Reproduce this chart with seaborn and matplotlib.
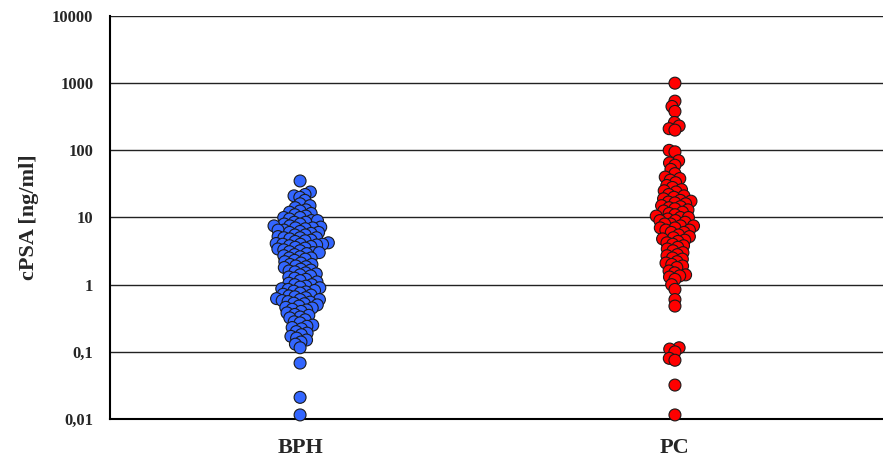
import numpy as np
import pandas as pd
import matplotlib.pyplot as plt
import seaborn as sns
from matplotlib.ticker import NullLocator

# values (ng/ml)
groups = ['BPH', 'PC']
bph_values = [35, 24, 22, 21, 20, 18, 16, 15, 14, 13, 12.5, 12, 11.5, 11, 10.5, 10, 10, 9.5, 9, 9,
              8.5, 8.5, 8, 8, 7.5, 7.5, 7.2, 7, 7, 6.8, 6.5, 6.5, 6.2, 6, 6, 5.8, 5.5, 5.5, 5.2,
              5, 5, 5, 4.8, 4.6, 4.5, 4.4, 4.2, 4.1, 4, 4, 4, 3.9, 3.8, 3.7, 3.6, 3.5, 3.4, 3.3,
              3.2, 3.1, 3.0, 3.0, 2.9, 2.8, 2.7, 2.6, 2.5, 2.5, 2.4, 2.3, 2.2, 2.1, 2.0, 2.0,
              1.9, 1.85, 1.8, 1.7, 1.65, 1.6, 1.55, 1.5, 1.45, 1.4, 1.35, 1.3, 1.25, 1.2, 1.15,
              1.1, 1.05, 1.0, 1.0, 0.95, 0.92, 0.9, 0.87, 0.85, 0.82, 0.8, 0.78, 0.75, 0.72, 0.7,
              0.68, 0.66, 0.64, 0.62, 0.6, 0.6, 0.58, 0.56, 0.55, 0.53, 0.52, 0.5, 0.48, 0.46,
              0.45, 0.43, 0.42, 0.4, 0.38, 0.36, 0.35, 0.33, 0.32, 0.3, 0.28, 0.27, 0.25, 0.24,
              0.23, 0.22, 0.2, 0.19, 0.18, 0.17, 0.16, 0.15, 0.14, 0.13, 0.115, 0.068, 0.021,
              0.0115]
pc_values = [1000, 540, 450, 380, 260, 230, 210, 200, 100, 95, 70, 65, 60, 52, 45, 40, 38, 36,
             33, 30, 28, 26, 25, 24, 22, 21, 20, 19, 18, 17.5, 17, 16.5, 16, 15, 14.5, 14, 13.5,
             13, 12.5, 12, 11.5, 11, 10.5, 10, 10, 9.5, 9, 9, 8.5, 8, 8, 7.5, 7.5, 7, 7, 6.5,
             6.5, 6, 6, 5.5, 5.2, 5, 4.8, 4.6, 4.4, 4.2, 4, 3.8, 3.6, 3.4, 3.2, 3, 2.8, 2.7,
             2.5, 2.4, 2.2, 2.1, 2, 1.9, 1.8, 1.6, 1.5, 1.4, 1.35, 1.3, 1.2, 1.0, 0.85, 0.6,
             0.48, 0.115, 0.11, 0.1, 0.08, 0.075, 0.032, 0.0115]
group_colors = {'BPH': '#3366FF', 'PC': '#FF0000'}
ytick_values = [0.01, 0.1, 1, 10, 100, 1000, 10000]
ytick_labels = ['0,01', '0,1', '1', '10', '100', '1000', '10000']

df = pd.DataFrame({'group': ['BPH'] * len(bph_values) + ['PC'] * len(pc_values),
                   'value': bph_values + pc_values})

sns.set_style('white')
plt.rcParams['font.family'] = ['Liberation Serif', 'DejaVu Serif']
plt.rcParams['font.weight'] = 'bold'

fig = plt.figure(figsize=(8.83, 4.61), dpi=100)
ax = fig.add_axes([0.1246, 0.0911, 0.8754, 0.8742])
ax.set_yscale('log')
ax.set_ylim(0.01, 10000)

sns.swarmplot(data=df, x='group', y='value', hue='group', order=groups, palette=group_colors,
              size=3.3, edgecolor='#1a1a1a', linewidth=0.8, legend=False, ax=ax,
              zorder=3, clip_on=False)
ax.set_xlim(-0.507, 1.555)
ax.set_ylim(0.01, 10000)

# swarm laid out with small markers, then drawn with larger overlapping ones
fig.canvas.draw()
for coll in ax.collections:
    coll.__dict__.pop('draw', None)
    coll.set_sizes([8.6 ** 2])

ax.set_yticks(ytick_values)
ax.set_yticklabels(ytick_labels)
ax.yaxis.set_minor_locator(NullLocator())
ax.yaxis.grid(True, color='#222222', lw=1)
ax.set_axisbelow(True)

for side in ['top', 'right']:
    ax.spines[side].set_visible(False)
for side in ['left', 'bottom']:
    ax.spines[side].set_color('black')
    ax.spines[side].set_linewidth(1.5)

ax.tick_params(axis='y', direction='out', length=5, width=1, color='black', labelsize=12, pad=7)
ax.tick_params(axis='x', length=0, labelsize=16, pad=14)
ax.set_xlabel('')
ax.set_ylabel('cPSA [ng/ml]', fontsize=16, fontweight='bold', labelpad=9)

fig.savefig('out.png', dpi=100)
